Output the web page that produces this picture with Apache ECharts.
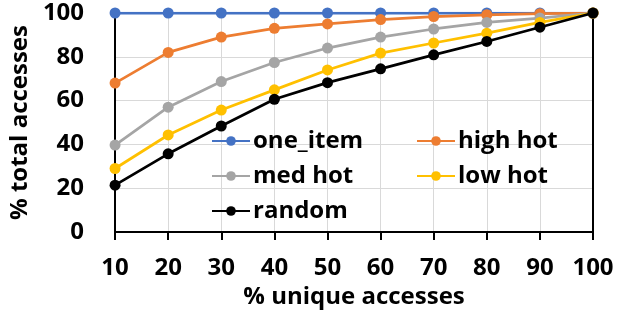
<!DOCTYPE html>
<html><head><meta charset="utf-8">
<script src="https://cdn.jsdelivr.net/npm/echarts@6/dist/echarts.min.js"></script>
<style>html,body{margin:0;padding:0;background:#fff}#c{width:623px;height:314px}</style>
</head><body><div id="c"></div>
<script>
var xValues = [10, 20, 30, 40, 50, 60, 70, 80, 90, 100];
var oneItem = [100, 100, 100, 100, 100, 100, 100, 100, 100, 100];
var highHot = [68, 82, 89, 93, 95, 97, 98.4, 99.2, 99.7, 100];
var medHot = [39.7, 57, 68.7, 77.4, 84, 89, 92.7, 95.7, 97.7, 100];
var lowHot = [29, 44.3, 55.7, 64.9, 74, 81.7, 86.3, 90.8, 95.7, 100];
var randomAcc = [21.4, 35.7, 48.4, 60.6, 68.2, 74.5, 80.9, 87, 93.5, 100];
var seriesNames = ['one_item', 'high hot', 'med hot', 'low hot', 'random'];
var seriesColors = ['#4472C4', '#ED7D31', '#A5A5A5', '#FFC000', '#000000'];
var seriesData = [oneItem, highHot, medHot, lowHot, randomAcc];

var FONT = '"Open Sans", sans-serif';
function pairs(arr){ return arr.map(function(v,i){ return [xValues[i], v]; }); }
var chart = echarts.init(document.getElementById('c'), null, {renderer:'canvas'});
var legendText = {fontFamily: FONT, fontWeight: 'bold', fontSize: 24, color: '#000', lineHeight: 24, padding:[0,0,0,-2]};
chart.setOption({
  animation: false,
  grid: {left: 107, right: 30, top: 13, bottom: 82, containLabel: false},
  legend: [
    {data: ['one_item', 'med hot', 'random'], orient: 'vertical', left: 211, top: 129, itemWidth: 38, itemHeight: 12, itemGap: 11, textStyle: legendText, padding: 0},
    {data: ['high hot', 'low hot'], orient: 'vertical', left: 416, top: 129, itemWidth: 38, itemHeight: 12, itemGap: 11, textStyle: legendText, padding: 0}
  ],
  xAxis: {
    type: 'value', min: 10, max: 100, interval: 10,
    name: '% unique accesses', nameLocation: 'middle', nameGap: 51,
    nameTextStyle: {fontFamily: FONT, fontWeight: 'bold', fontSize: 24, color: '#000'},
    axisLine: {lineStyle: {color: '#000', width: 2}},
    axisTick: {show: true, length: 8, lineStyle: {color: '#000', width: 2}},
    axisLabel: {fontFamily: FONT, fontWeight: 'bold', fontSize: 24, color: '#000', margin: 24},
    splitLine: {show: true, lineStyle: {color: '#d9d9d9', width: 1}}
  },
  yAxis: [{
    type: 'value', min: 0, max: 100, interval: 20,
    name: '% total accesses', nameLocation: 'middle', nameGap: 79,
    nameTextStyle: {fontFamily: FONT, fontWeight: 'bold', fontSize: 24, color: '#000'},
    axisLine: {show: true, lineStyle: {color: '#000', width: 2}},
    axisTick: {show: false},
    axisLabel: {fontFamily: FONT, fontWeight: 'bold', fontSize: 24, color: '#000', margin: 31},
    splitLine: {show: true, lineStyle: {color: '#d9d9d9', width: 1}}
  }, {
    type: 'value', min: 0, max: 100, interval: 20, position: 'right',
    axisLine: {show: true, lineStyle: {color: '#000', width: 2}},
    axisTick: {show: false}, axisLabel: {show: false}, splitLine: {show: false}
  }],
  series: seriesNames.map(function(n, i){
    return {
      name: n, type: 'line', data: pairs(seriesData[i]),
      symbol: 'circle', symbolSize: 11,
      lineStyle: {color: seriesColors[i], width: 2.75},
      itemStyle: {color: seriesColors[i]},
      z: 2 + i
    };
  })
});
</script></body></html>
